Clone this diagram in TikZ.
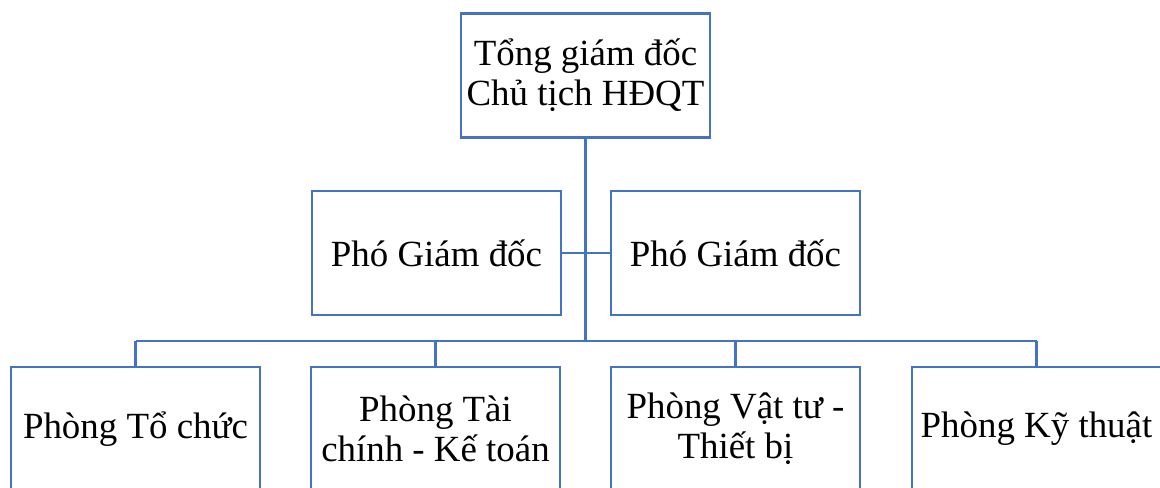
\documentclass[tikz,border=0pt]{standalone}
\usepackage{fontspec}
\setmainfont{Liberation Serif}
\definecolor{boxblue}{HTML}{4472C4}
\tikzset{
  unit/.style={draw=boxblue, line width=1.4pt, minimum width=4.98cm, minimum height=2.48cm, inner sep=1pt, align=center},
  link/.style={draw=boxblue, line width=1.3pt}
}

\begin{document}
\begin{tikzpicture}[x=0.02cm,y=0.02cm,font=\fontsize{21}{22.6}\selectfont]
\useasboundingbox (0,0) rectangle (1160,-487);

\begin{scope}
\node[unit] (top) at (585.5,-75.5) {Tổng giám đốc\\Chủ tịch HĐQT};

\node[unit] (pho1) at (436.5,-253) {Phó Giám đốc};
\node[unit] (pho2) at (735.5,-253) {Phó Giám đốc};

\node[unit] (t1) at (135.5,-429) {Phòng Tổ chức};
\node[unit] (t2) at (435.5,-429) {Phòng Tài\\chính - Kế toán};
\node[unit] (t3) at (735.5,-429) {Phòng Vật tư -\\Thiết bị};
\node[unit] (t4) at (1036.5,-429) {Phòng Kỹ thuật};

\coordinate (bus) at (585.5,-341);

\draw[link] (top.south) -- (bus);
\draw[link] (pho1.east) -- (pho2.west);
\draw[link] (t1.north |- bus) -- (t4.north |- bus);
\foreach \i in {1,...,4}
  \draw[link] (t\i.north) -- (t\i.north |- bus);
\end{scope}

\end{tikzpicture}
\end{document}
